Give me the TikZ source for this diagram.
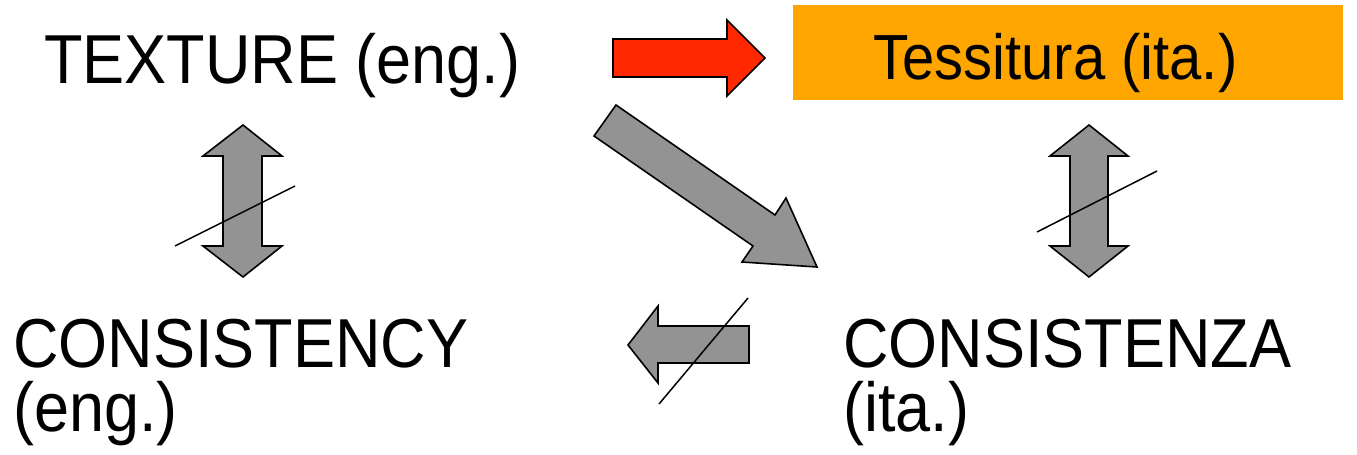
\documentclass[tikz,border=0pt]{standalone}
\usepackage{fontspec}
\setmainfont{Liberation Sans}
\usepackage{graphicx}
\definecolor{arrgray}{HTML}{939393}
\definecolor{arrred}{HTML}{FF2800}
\definecolor{boxorange}{HTML}{FFA500}
\tikzset{
  label63/.style={inner sep=0pt, anchor=base west, font=\fontsize{63}{59}\selectfont},
  label57/.style={inner sep=0pt, anchor=base west, font=\fontsize{58}{58}\selectfont},
  blockarrow/.style={draw=black, line width=1.6pt, line join=miter, fill=arrgray},
  redarrow/.style={blockarrow, fill=arrred},
  slash/.style={draw=black, line width=1.5pt},
}
\newcommand{\vst}[1]{\scalebox{1}[1.1]{#1}}
\begin{document}
\begin{tikzpicture}[x=1pt,y=-1pt]
\useasboundingbox (0,0) rectangle (1357,455);
% orange box and labels
\node[fill=boxorange, inner sep=0pt, minimum width=550pt, minimum height=95pt, anchor=north west] (tesbox) at (793,5) {};
\node[label63] (tex) at (44,83) {\vst{TEXTURE (eng.)}};
\node[label57] (tes) at (873,79) {\vst{Tessitura (ita.)}};
\node[label63] (cen) at (13,367) {\vst{\vtop{\hbox{CONSISTENCY}\hbox{(eng.)}}}};
\node[label63] (cit) at (843,367) {\vst{\vtop{\hbox{CONSISTENZA}\hbox{(ita.)}}}};
% red arrow
\draw[redarrow] (613,39) -- (727,39) -- (727,20) -- (765,58) -- (727,96) -- (727,77) -- (613,77) -- cycle;
% left double arrow
\draw[blockarrow] (243,125) -- (282,156) -- (262,156) -- (262,246) -- (282,246) -- (243,277) -- (203,246) -- (223,246) -- (223,156) -- (203,156) -- cycle;
\coordinate (ls1) at (175,246);
\coordinate (ls2) at (295,186);
\draw[slash] (ls1) -- (ls2);
% right double arrow
\draw[blockarrow] (1089,125) -- (1128,156) -- (1108,156) -- (1108,246) -- (1128,246) -- (1089,277) -- (1050,246) -- (1070,246) -- (1070,156) -- (1050,156) -- cycle;
\coordinate (rs1) at (1037,232);
\coordinate (rs2) at (1157,171);
\draw[slash] (rs1) -- (rs2);
% diagonal arrow
\draw[blockarrow] (616,105) -- (775,215) -- (786,198) -- (817,267) -- (742,262) -- (753,246) -- (594,136) -- cycle;
% left arrow
\draw[blockarrow] (628,345) -- (658,306) -- (658,326) -- (749,326) -- (749,363) -- (658,363) -- (658,383) -- cycle;
\coordinate (ms1) at (659,404);
\coordinate (ms2) at (748,298);
\draw[slash] (ms1) -- (ms2);
\end{tikzpicture}
\end{document}
